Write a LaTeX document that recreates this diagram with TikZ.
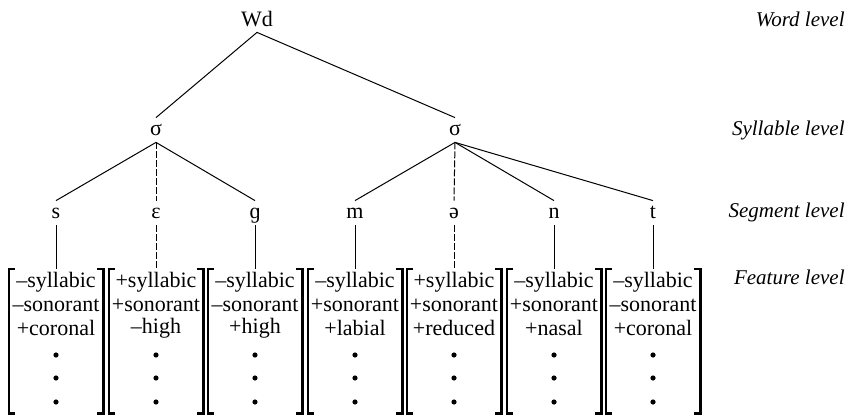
\documentclass[tikz,border=0pt,12pt]{standalone}
\usepackage{fontspec}
\setmainfont{Liberation Serif}

\tikzset{
  unit/.style={inner sep=0pt, text height=1ex, text depth=0pt, minimum height=12pt},
  wordnode/.style={inner sep=0pt, text height=1.45ex, text depth=0pt, minimum height=13pt},
  levellabel/.style={anchor=east, inner sep=0pt, font=\fontsize{10.5}{12}\selectfont\itshape},
  featbox/.style={inner sep=0pt, minimum width=47pt, minimum height=72pt},
  brk/.style={line width=1.1pt},
  link/.style={line width=.5pt},
  vlink/.style={line width=.5pt, dash pattern=on 3.5pt off 1pt},
}

\begin{document}
\begin{tikzpicture}[x=.5pt,y=-.5pt,font=\fontsize{11}{13}\selectfont]
\useasboundingbox (0,0) rectangle (852,417);

\node[wordnode] (wd) at (257,19) {Wd};
\node[unit] (syl1) at (156,130) {σ};
\node[unit] (syl2) at (455,130) {σ};

\foreach \n/\x/\s in {1/56/s, 2/156/ɛ, 3/255/ɡ, 4/355/m, 5/454/ə, 6/554/n, 7/653/t}
{
   \node[unit] (seg\n) at (\x,213) {\s};
}

\foreach \n/\x/\fa/\fb/\fc in {
  1/56/{–syllabic}/{–sonorant}/{+coronal},
  2/156/{+syllabic}/{+sonorant}/{–high},
  3/255/{–syllabic}/{–sonorant}/{+high},
  4/355/{–syllabic}/{+sonorant}/{+labial},
  5/454/{+syllabic}/{+sonorant}/{+reduced},
  6/554/{–syllabic}/{+sonorant}/{+nasal},
  7/653/{–syllabic}/{–sonorant}/{+coronal}}
{
   \node[featbox] (feat\n) at (\x,341) {};
   \draw[brk] ([xshift=3pt]feat\n.north west) -| (feat\n.south west) -- ++(6,0);
   \draw[brk] ([xshift=-3pt]feat\n.north east) -| (feat\n.south east) -- ++(-6,0);
   \node at (\x,282) {\fa};
   \node at (\x,305) {\fb};
   \node at (\x,328) {\fc};
   \foreach \y in {355,378,402}
      \fill (\x,\y) circle (2.6);
}

% tree
\draw[link] (syl1.north) -- (wd.south) -- (syl2.north);
\draw[link] (syl1.south) -- (seg1.north);
\draw[vlink] (syl1.south) -- (seg2.north);
\draw[link] (syl1.south) -- (seg3.north);
\draw[link] (syl2.south) -- (seg4.north);
\draw[vlink] (syl2.south) -- (seg5.north);
\draw[link] (syl2.south) -- (seg6.north);
\draw[link] (syl2.south) -- (seg7.north);

% segments to features
\foreach \n in {1,3,4,6,7}
   \draw[link] (seg\n.south) -- (feat\n.north);
\foreach \n in {2,5}
   \draw[vlink] (seg\n.south) -- (feat\n.north);

\node[levellabel] (lword) at (845,19) {Word level};
\node[levellabel] (lsyl) at (845,130) {Syllable level};
\node[levellabel] (lseg) at (845,212) {Segment level};
\node[levellabel] (lfeat) at (845,277) {Feature level};

\end{tikzpicture}
\end{document}
